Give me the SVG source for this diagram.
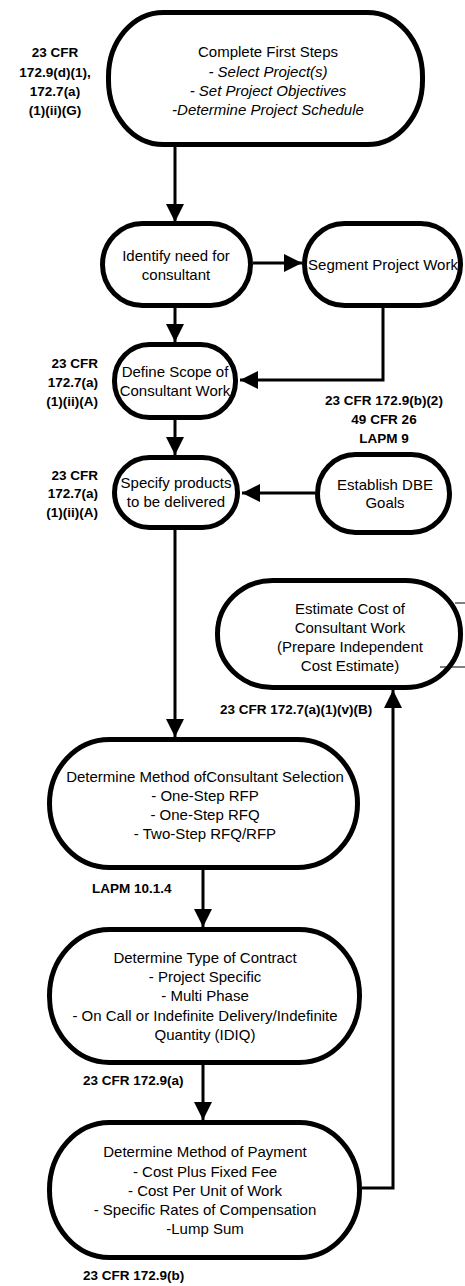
<svg xmlns="http://www.w3.org/2000/svg" width="465" height="1286" viewBox="0 0 465 1286">
<defs>
<style>
.node{fill:#fff;stroke:#000;stroke-width:5}
.t{font-family:"Liberation Sans",Arial,sans-serif;font-size:15px;fill:#000;text-anchor:middle}
.i{font-style:italic}
.lab{font-family:"Liberation Sans",Arial,sans-serif;font-size:13.5px;font-weight:bold;fill:#000}
.c{fill:none;stroke:#000;stroke-width:3}
.thin{fill:none;stroke:#000;stroke-width:1}
</style>
<marker id="ah" markerUnits="userSpaceOnUse" markerWidth="18" markerHeight="18" refX="18" refY="9" orient="auto" viewBox="0 0 18 18">
<path d="M0,0 L18,9 L0,18 Z" fill="#000"/>
</marker>
</defs>
<rect width="465" height="1286" fill="#fff"/>

<g id="connectors">
<path class="c" d="M175,147 V222" marker-end="url(#ah)"/>
<path class="c" d="M253,263 H302" marker-end="url(#ah)"/>
<path class="c" d="M175,308 V342" marker-end="url(#ah)"/>
<path class="c" d="M383,308 V380 H240" marker-end="url(#ah)"/>
<path class="c" d="M175,420 V455" marker-end="url(#ah)"/>
<path class="c" d="M315,493 H242" marker-end="url(#ah)"/>
<path class="c" d="M175,530 V737" marker-end="url(#ah)"/>
<path class="c" d="M203,870 V927" marker-end="url(#ah)"/>
<path class="c" d="M203,1065 V1120" marker-end="url(#ah)"/>
<path class="c" d="M362,1188 H393 V690" marker-end="url(#ah)"/>
</g>

<g id="node-first-steps">
<rect class="node" x="108.5" y="12.5" width="314" height="132" rx="55" ry="64"/>
<text class="t" x="268" y="57">Complete First Steps</text>
<text class="t i" x="268" y="77">- Select Project(s)</text>
<text class="t i" x="268" y="96">- Set Project Objectives</text>
<text class="t i" x="268" y="115">-Determine Project Schedule</text>
</g>
<g id="label-first-steps">
<text class="lab" text-anchor="middle" x="55" y="57">23 CFR</text>
<text class="lab" text-anchor="middle" x="55" y="77">172.9(d)(1),</text>
<text class="lab" text-anchor="middle" x="55" y="96">172.7(a)</text>
<text class="lab" text-anchor="middle" x="55" y="115">(1)(ii)(G)</text>
</g>

<g id="node-identify">
<rect class="node" x="102.5" y="223.5" width="148" height="82" rx="40" ry="41"/>
<text class="t" x="176" y="261">Identify need for</text>
<text class="t" x="176" y="280">consultant</text>
</g>

<g id="node-segment">
<rect class="node" x="304.5" y="223.5" width="156" height="82" rx="40" ry="41"/>
<text class="t" x="383" y="270">Segment Project Work</text>
</g>

<g id="node-define-scope">
<rect class="node" x="114.5" y="344.5" width="121" height="73" rx="35" ry="36"/>
<text class="t" x="175" y="377">Define Scope of</text>
<text class="t" x="175" y="396">Consultant Work</text>
</g>
<g id="label-define-scope">
<text class="lab" text-anchor="end" x="98" y="368">23 CFR</text>
<text class="lab" text-anchor="end" x="98" y="387">172.7(a)</text>
<text class="lab" text-anchor="end" x="98" y="406">(1)(ii)(A)</text>
</g>
<g id="label-segment">
<text class="lab" text-anchor="middle" x="384" y="405">23 CFR 172.9(b)(2)</text>
<text class="lab" text-anchor="middle" x="384" y="424">49 CFR 26</text>
<text class="lab" text-anchor="middle" x="384" y="443">LAPM 9</text>
</g>

<g id="node-specify">
<rect class="node" x="114.5" y="457.5" width="123" height="70" rx="35" ry="35"/>
<text class="t" x="176" y="488">Specify products</text>
<text class="t" x="176" y="507">to be delivered</text>
</g>
<g id="label-specify">
<text class="lab" text-anchor="end" x="98" y="480">23 CFR</text>
<text class="lab" text-anchor="end" x="98" y="498">172.7(a)</text>
<text class="lab" text-anchor="end" x="98" y="517">(1)(ii)(A)</text>
</g>

<g id="node-dbe">
<rect class="node" x="317.5" y="454.5" width="132" height="78" rx="38" ry="39"/>
<text class="t" x="385" y="490">Establish DBE</text>
<text class="t" x="385" y="508">Goals</text>
</g>

<g id="node-estimate">
<rect class="node" x="217.5" y="580.5" width="243" height="107" rx="55" ry="53"/>
<path class="thin" d="M455,603 H465 M440,667 H465"/>
<text class="t" x="350" y="614">Estimate Cost of</text>
<text class="t" x="350" y="633">Consultant Work</text>
<text class="t" x="350" y="652">(Prepare Independent</text>
<text class="t" x="350" y="671">Cost Estimate)</text>
</g>
<g id="label-estimate">
<text class="lab" x="220" y="714">23 CFR 172.7(a)(1)(v)(B)</text>
</g>

<g id="node-selection">
<rect class="node" x="49.5" y="739.5" width="308" height="128" rx="60" ry="64"/>
<text class="t" x="205" y="782">Determine Method ofConsultant Selection</text>
<text class="t" x="205" y="801">- One-Step RFP</text>
<text class="t" x="205" y="820">- One-Step RFQ</text>
<text class="t" x="205" y="839">- Two-Step RFQ/RFP</text>
</g>
<g id="label-selection">
<text class="lab" x="92" y="893">LAPM 10.1.4</text>
</g>

<g id="node-contract">
<rect class="node" x="49.5" y="929.5" width="310" height="133" rx="60" ry="66"/>
<text class="t" x="205" y="963">Determine Type of Contract</text>
<text class="t" x="205" y="982">- Project Specific</text>
<text class="t" x="205" y="1001">- Multi Phase</text>
<text class="t" x="205" y="1021">- On Call or Indefinite Delivery/Indefinite</text>
<text class="t" x="205" y="1040">Quantity (IDIQ)</text>
</g>
<g id="label-contract">
<text class="lab" x="83" y="1085">23 CFR 172.9(a)</text>
</g>

<g id="node-payment">
<rect class="node" x="49.5" y="1122.5" width="310" height="135" rx="60" ry="67"/>
<text class="t" x="205" y="1157">Determine Method of Payment</text>
<text class="t" x="205" y="1177">- Cost Plus Fixed Fee</text>
<text class="t" x="205" y="1196">- Cost Per Unit of Work</text>
<text class="t" x="205" y="1215">- Specific Rates of Compensation</text>
<text class="t" x="205" y="1234">-Lump Sum</text>
</g>
<g id="label-payment">
<text class="lab" x="83" y="1280">23 CFR 172.9(b)</text>
</g>
</svg>
